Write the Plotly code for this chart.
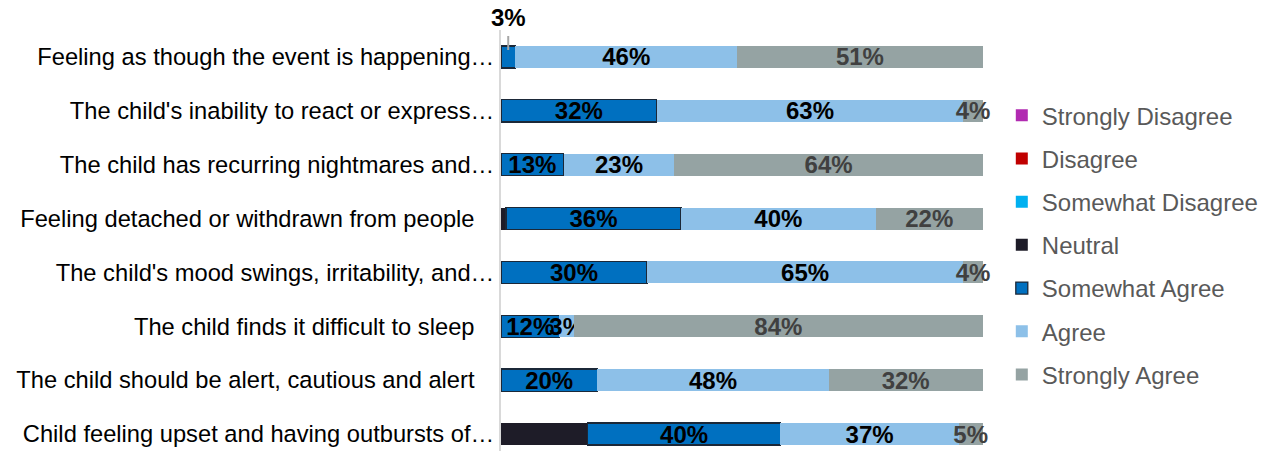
import plotly.graph_objects as go

categories = [
    "Feeling as though the event is happening…",
    "The child's inability to react or express…",
    "The child has recurring nightmares and…",
    "Feeling detached or withdrawn from people",
    "The child's mood swings, irritability, and…",
    "The child finds it difficult to sleep",
    "The child should be alert, cautious and alert",
    "Child feeling upset and having outbursts of…",
]
tick_labels = [
    "Feeling as though the event is happening…",
    "The child's inability to react or express…",
    "The child has recurring nightmares and…",
    "Feeling detached or withdrawn from people\u00a0\u00a0\u00a0",
    "The child's mood swings, irritability, and…",
    "The child finds it difficult to sleep\u00a0\u00a0\u00a0",
    "The child should be alert, cautious and alert\u00a0\u00a0\u00a0",
    "Child feeling upset and having outbursts of…",
]

series_names = ["Strongly Disagree", "Disagree", "Somewhat Disagree", "Neutral",
                "Somewhat Agree", "Agree", "Strongly Agree"]
strongly_disagree = [0, 0, 0, 0, 0, 0, 0, 0]
disagree = [0, 0, 0, 0, 0, 0, 0, 0]
somewhat_disagree = [0, 0, 0, 0, 0, 0, 0, 0]
neutral = [0, 0, 0, 1, 0, 0, 0, 18]
somewhat_agree = [3, 32, 13, 36, 30, 12, 20, 40]
agree = [46, 63, 23, 40, 65, 3, 48, 37]
strongly_agree = [51, 4, 64, 22, 4, 84, 32, 5]

series_values = [strongly_disagree, disagree, somewhat_disagree, neutral,
                 somewhat_agree, agree, strongly_agree]
colors = ["#B12AB1", "#C00000", "#00B0F0", "#1E1C28", "#0070C0", "#8DC0E8", "#95A3A3"]
label_colors = [None, None, None, None, "#000000", "#000000", "#404040"]

FONT = "Liberation Sans, Arial, sans-serif"
FS = 24

fig = go.Figure()
for idx, (name, vals, col, lcol) in enumerate(zip(series_names, series_values, colors, label_colors)):
    if lcol is None:
        texts = ["" for v in vals]
    else:
        texts = ["" if v == 0 else f"{v}%" for v in vals]
    if name == "Somewhat Agree":
        texts[0] = ""  # shown above the bar with a leader line
        line = dict(color="#1B2838", width=1.3)
    else:
        line = dict(color=col, width=0)
    fig.add_trace(go.Bar(
        y=categories, x=vals, name=name, orientation="h",
        marker=dict(color=col, line=line),
        text=texts, textposition="inside", insidetextanchor="middle",
        constraintext="none", cliponaxis=False, textangle=0,
        textfont=dict(family=FONT, size=FS, color=lcol or "#000000", weight="bold"),
        legendgroup=name,
    ))

row_totals = [sum(s[i] for s in series_values) for i in range(len(categories))]
x_first = (neutral[0] + somewhat_agree[0] / 2) * 100 / row_totals[0]
fig.add_annotation(
    x=x_first, y=categories[0], xref="x", yref="y",
    text=f"<b>{somewhat_agree[0]}%</b>", showarrow=True, arrowhead=0,
    arrowcolor="#A6A6A6", arrowwidth=2, ax=0, ay=-39,
    standoff=7, startstandoff=3,
    font=dict(family=FONT, size=FS, color="#000000"),
)

fig.update_layout(
    width=1286, height=451,
    margin=dict(l=501, r=303, t=30, b=0),
    barmode="stack", barnorm="percent", bargap=0.59,
    plot_bgcolor="white", paper_bgcolor="white",
    font=dict(family=FONT, size=FS, color="#000000"),
    showlegend=True,
    legend=dict(
        x=1.039, xanchor="left", y=0.85, yanchor="top",
        font=dict(family=FONT, size=FS, color="#595959"),
        traceorder="grouped", tracegroupgap=9,
        itemclick=False,
    ),
    xaxis=dict(range=[0, 100.05], visible=False, fixedrange=True),
    yaxis=dict(
        categoryorder="array", categoryarray=categories,
        tickvals=categories, ticktext=tick_labels,
        range=[7.315, -0.5], showline=True, linecolor="#D9D9D9", linewidth=2,
        showgrid=False, zeroline=False, ticks="",
        tickfont=dict(family=FONT, size=23.7, color="#000000"),
    ),
)

fig.write_html("out.html", config={"displayModeBar": False},
               post_script="document.body.style.margin='0';")
